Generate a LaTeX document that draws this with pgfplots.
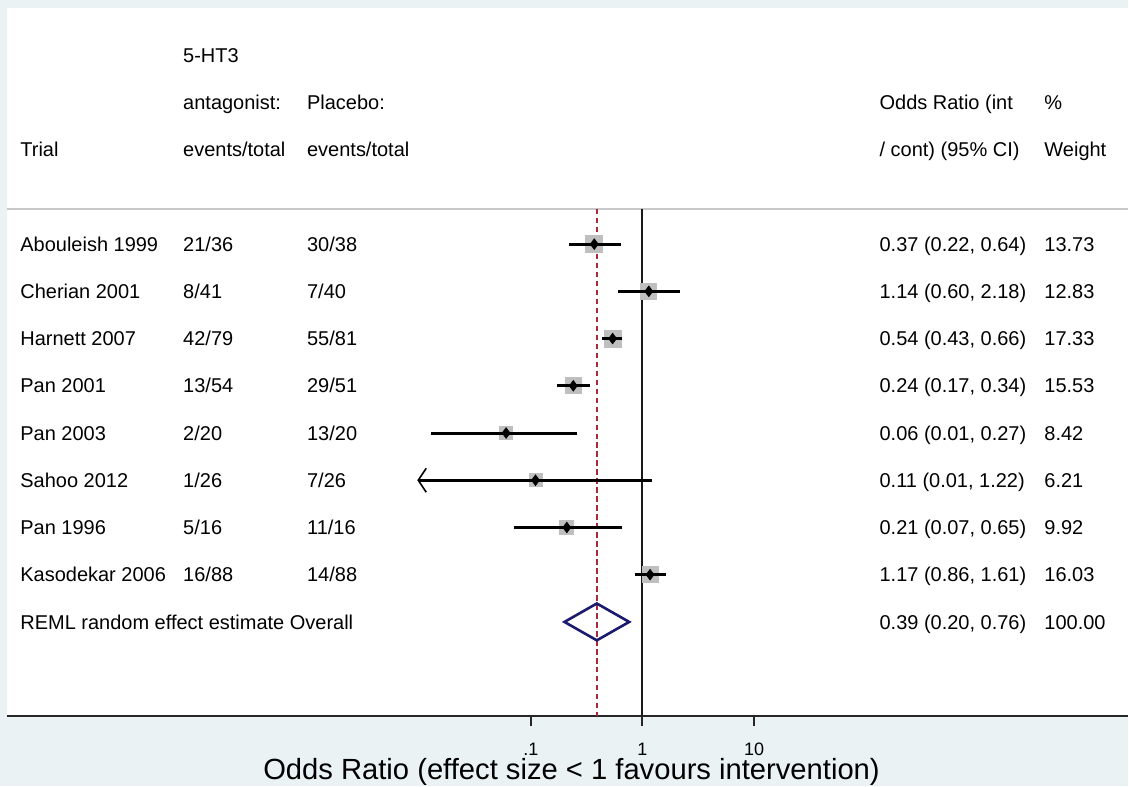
\documentclass[border=0pt]{standalone}
\usepackage{pgfplots}
\pgfplotsset{compat=1.18}
\usepackage{pgfplotstable}
\usepackage{fontspec}
\setmainfont{Liberation Sans}
\usetikzlibrary{arrows.meta}

\definecolor{statabg}{RGB}{234,242,243}
\definecolor{rulegray}{RGB}{200,200,200}
\definecolor{boxgray}{RGB}{191,191,191}
\definecolor{refred}{RGB}{170,40,55}
\definecolor{diamondnavy}{RGB}{26,26,110}

% row, odds ratio, CI as drawn, half side of weight box (pt)
\pgfplotstableread{
row  or    lo      hi    ms
1    0.37  0.22    0.64  4.25
2    1.14  0.60    2.18  4.0
3    0.54  0.43    0.66  4.25
4    0.24  0.17    0.34  4.0
5    0.06  0.0128  0.26  3.25
6    0.11  0.0096  1.22  3.25
7    0.21  0.07    0.65  3.5
8    1.17  0.86    1.61  4.0
}\trials

% text cell: x as fraction of panel width, y as row
\newcommand\cell[3]{\node[cell] at ({rel axis cs:#1,0}|-{axis cs:1,#2}) {#3};}

\begin{document}
\begin{tikzpicture}[cell/.style={anchor=base west, inner sep=0pt, yshift=-3.6pt, font=\fontsize{10}{12}\selectfont}]
\fill[statabg] (0,0) rectangle (564.5pt,393.5pt);
\begin{axis}[
  at={(3.5pt,35pt)}, anchor=south west,
  scale only axis, width=561pt, height=354.5pt,
  xmode=log, xmin=2.02e-6, xmax=22440,
  ymin=-4, ymax=11, y dir=reverse,
  axis x line*=bottom, axis y line=none,
  axis background/.style={fill=white},
  x axis line style={black!85, line width=1pt},
  xtick={0.1,1,10}, xticklabels={.1,1,10}, xminorticks=false,
  tick align=outside, major tick length=5pt,
  every tick/.style={black!85, line width=1pt},
  xticklabel style={font=\fontsize{9}{10}\selectfont, inner sep=0pt, yshift=-8pt},
  xlabel={Odds Ratio (effect size < 1 favours intervention)},
  xlabel style={font=\fontsize{14.6}{17}\selectfont, inner sep=0pt, at={(axis description cs:0.5036,-0.0889)}, anchor=base},
  clip=false, clip marker paths=true,
]
\draw[rulegray, line width=1pt] ({rel axis cs:0,0}|-{axis cs:1,0.25}) -- ({rel axis cs:1,0}|-{axis cs:1,0.25});
\addplot[black!90, line width=1pt] coordinates {(1,0.25) (1,11)};
\addplot[refred, line width=1pt, dash pattern=on 2.6pt off 1.9pt] coordinates {(0.39,0.25) (0.39,11)};

% weight boxes
\addplot[scatter, only marks, mark=square*,
  scatter/use mapped color={draw=boxgray, fill=boxgray},
  visualization depends on={\thisrow{ms} \as \perpointmarksize},
  scatter/@pre marker code/.append style={/tikz/mark size=\perpointmarksize}]
  table[x=or, y=row] {\trials};

% confidence intervals
\addplot[black, line width=1.5pt] coordinates {(0.22,1) (0.64,1)};
\addplot[black, line width=1.5pt] coordinates {(0.60,2) (2.18,2)};
\addplot[black, line width=1.5pt] coordinates {(0.43,3) (0.66,3)};
\addplot[black, line width=1.5pt] coordinates {(0.17,4) (0.34,4)};
\addplot[black, line width=1.5pt] coordinates {(0.0128,5) (0.26,5)};
\addplot[black, line width=1.5pt, {Straight Barb[length=4pt,width=12pt,line width'=0.8pt]}-] coordinates {(0.0096,6) (1.22,6)};
\addplot[black, line width=1.5pt] coordinates {(0.07,7) (0.65,7)};
\addplot[black, line width=1.5pt] coordinates {(0.86,8) (1.61,8)};

% point estimates
\addplot[only marks, mark=diamond*, mark size=2.6pt, black] table[x=or, y=row] {\trials};

% pooled estimate
\addplot[diamondnavy, line width=1.3pt, line join=miter] coordinates {(0.20,9) (0.39,8.61) (0.76,9) (0.39,9.39)} -- cycle;

% header
\cell{0.15686}{-3}{5-HT3}
\cell{0.15686}{-2}{antagonist:}
\cell{0.26738}{-2}{Placebo:}
\cell{0.77807}{-2}{Odds Ratio (int}
\cell{0.92513}{-2}{\%}
\cell{0.01159}{-1}{Trial}
\cell{0.15686}{-1}{events/total}
\cell{0.26738}{-1}{events/total}
\cell{0.77807}{-1}{/ cont) (95\% CI)}
\cell{0.92513}{-1}{Weight}

% rows
\cell{0.01159}{1}{Abouleish 1999}\cell{0.15686}{1}{21/36}\cell{0.26738}{1}{30/38}\cell{0.77807}{1}{0.37 (0.22, 0.64)}\cell{0.92513}{1}{13.73}
\cell{0.01159}{2}{Cherian 2001}\cell{0.15686}{2}{8/41}\cell{0.26738}{2}{7/40}\cell{0.77807}{2}{1.14 (0.60, 2.18)}\cell{0.92513}{2}{12.83}
\cell{0.01159}{3}{Harnett 2007}\cell{0.15686}{3}{42/79}\cell{0.26738}{3}{55/81}\cell{0.77807}{3}{0.54 (0.43, 0.66)}\cell{0.92513}{3}{17.33}
\cell{0.01159}{4}{Pan 2001}\cell{0.15686}{4}{13/54}\cell{0.26738}{4}{29/51}\cell{0.77807}{4}{0.24 (0.17, 0.34)}\cell{0.92513}{4}{15.53}
\cell{0.01159}{5}{Pan 2003}\cell{0.15686}{5}{2/20}\cell{0.26738}{5}{13/20}\cell{0.77807}{5}{0.06 (0.01, 0.27)}\cell{0.92513}{5}{8.42}
\cell{0.01159}{6}{Sahoo 2012}\cell{0.15686}{6}{1/26}\cell{0.26738}{6}{7/26}\cell{0.77807}{6}{0.11 (0.01, 1.22)}\cell{0.92513}{6}{6.21}
\cell{0.01159}{7}{Pan 1996}\cell{0.15686}{7}{5/16}\cell{0.26738}{7}{11/16}\cell{0.77807}{7}{0.21 (0.07, 0.65)}\cell{0.92513}{7}{9.92}
\cell{0.01159}{8}{Kasodekar 2006}\cell{0.15686}{8}{16/88}\cell{0.26738}{8}{14/88}\cell{0.77807}{8}{1.17 (0.86, 1.61)}\cell{0.92513}{8}{16.03}
\cell{0.01159}{9}{REML random effect estimate Overall}\cell{0.77807}{9}{0.39 (0.20, 0.76)}\cell{0.92513}{9}{100.00}
\end{axis}
\end{tikzpicture}
\end{document}
